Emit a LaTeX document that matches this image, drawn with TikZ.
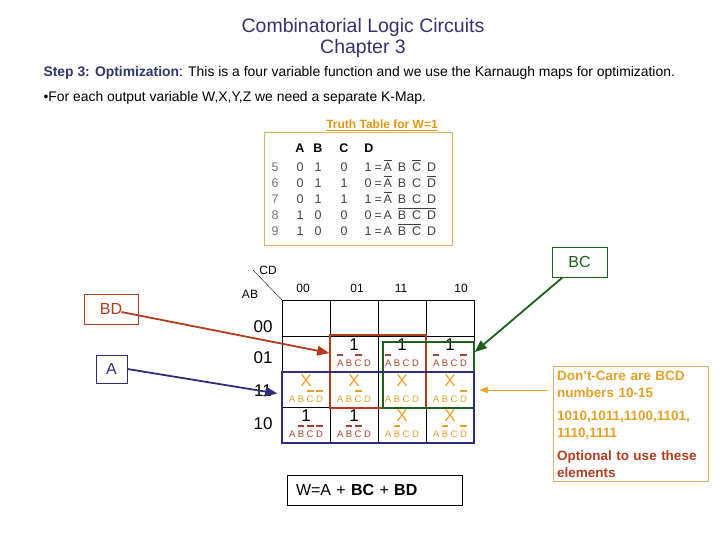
\documentclass[tikz,border=0pt]{standalone}
\usepackage{fontspec}
\setmainfont{Liberation Sans}
\usetikzlibrary{arrows,calc}

\definecolor{navy}{RGB}{51,51,110}
\definecolor{ttgold}{RGB}{222,150,20}
\definecolor{ttframe}{RGB}{215,180,110}
\definecolor{bdred}{RGB}{178,60,30}
\definecolor{bcgreen}{RGB}{30,95,30}
\definecolor{anavy}{RGB}{45,45,120}
\definecolor{dcorange}{RGB}{228,160,40}
\definecolor{mtred}{RGB}{165,65,50}

% letter with a bar over it, raised by the optional argument
\newcommand{\ovl}[2][11pt]{\setbox0\hbox{#2}\rlap{\rule[#1]{\wd0}{1.8pt}}\box0}
\newcommand{\tovl}[1]{\setbox0\hbox{#1}\rlap{\rule[10.5pt]{\wd0}{1.3pt}}\box0}
\newcommand{\lit}[2]{\ifnum#1=0 \ovl{#2}\else#2\fi}
\newcommand{\mterm}[4]{\lit{#1}{A}\kern2.5pt\lit{#2}{B}\kern2.5pt\lit{#3}{C}\kern2.5pt\lit{#4}{D}}

\begin{document}
\begin{tikzpicture}[x=1pt,y=-1pt,
    title/.style={text=navy, font=\fontsize{19.5}{22}\selectfont},
    textline/.style={anchor=west, font=\fontsize{13.9}{16}\selectfont},
    ttxt/.style={anchor=base, inner sep=0pt, text=black!75, font=\fontsize{12.5}{15}\selectfont},
    tthead/.style={ttxt, text=black, font=\fontsize{12.5}{15}\selectfont\bfseries},
    collab/.style={inner sep=0pt, font=\fontsize{12}{14}\selectfont},
    rowlab/.style={inner sep=0pt, font=\fontsize{17}{20}\selectfont},
    cellsym/.style={anchor=base, inner sep=0pt, font=\fontsize{17}{20}\selectfont},
    cellterm/.style={anchor=base, inner sep=0pt, font=\fontsize{9.5}{11}\selectfont},
    tagbox/.style={draw, line width=0.8pt, inner sep=0pt, font=\fontsize{16}{18}\selectfont},
    group/.style={draw, line width=1.6pt, inner sep=0pt},
    tagline/.style={line width=1.8pt, -triangle 45}]
\useasboundingbox (0,0) rectangle (720,540);

% heading
\node[title] (head) at (363,27) {Combinatorial Logic Circuits};
\node[title] (chap) at (363,48) {Chapter 3};
\node[textline] (step) at (40,73) {\textcolor{navy}{\bfseries Step 3: Optimization}: This is a four variable function and we use the Karnaugh maps for optimization.};
\node[textline] (bullet) at (40,98) {\textbullet{}For each output variable W,X,Y,Z we need a separate K-Map.};

% truth table
\node[text=ttgold, font=\fontsize{12}{14}\selectfont\bfseries] (tttitle) at (382,125) {\underline{Truth Table for W=1}};
\node[draw=ttframe, line width=0.8pt, minimum width=188pt, minimum height=113pt, inner sep=0pt] (ttbox) at (358,188.5) {};
\node[tthead] (hA) at (300,152.5) {A};
\node[tthead] (hB) at (318,152.5) {B};
\node[tthead] (hC) at (344,152.5) {C};
\node[tthead] (hD) at (369,152.5) {D};
\foreach \n/\a/\b/\c/\d/\eq [count=\i] in {
    5/0/1/0/1/{\tovl{A}\kern6pt B\kern6pt\tovl{C}\kern6pt D},
    6/0/1/1/0/{\tovl{A}\kern6pt B\kern6pt C\kern6pt\tovl{D}},
    7/0/1/1/1/{\tovl{A}\kern6pt B\kern6pt C\kern6pt D},
    8/1/0/0/0/{A\kern6pt\tovl{B}\kern0pt\tovl{\kern6pt C}\kern0pt\tovl{\kern6pt D}},
    9/1/0/0/1/{A\kern6pt\tovl{B}\kern0pt\tovl{\kern6pt C}\kern6pt D}}
{
  \node[ttxt, text=black!55] (tn\i) at (275,155.5+16*\i) {\n};
  \node[ttxt] (ta\i) at (300,155.5+16*\i) {\a};
  \node[ttxt] (tb\i) at (318,155.5+16*\i) {\b};
  \node[ttxt] (tc\i) at (344,155.5+16*\i) {\c};
  \node[ttxt] (td\i) at (368,155.5+16*\i) {\d};
  \node[ttxt, anchor=base west] (te\i) at (374.5,155.5+16*\i) {=\kern1.5pt\eq};
}

% k-map grid
\foreach \x in {282,330,378,426,474}
  \draw (\x,300) -- (\x,443);
\foreach \y in {300,336,372,407,443}
  \draw (282,\y) -- (474,\y);
\draw (253,270) -- (282,300);
\node[collab] (cd) at (268,270) {CD};
\node[collab] (ab) at (250,294) {AB};
\foreach \lab/\x in {00/303,01/357,11/401,10/461}
  \node[collab] (c\lab) at (\x,288) {\lab};
\foreach \lab/\y in {00/327,01/358,11/391,10/424}
  \node[rowlab] (r\lab) at (263,\y) {\lab};

% cells
\foreach \cx/\ty/\bits [count=\k] in {354/336/0101,402/336/0111,450/336/0110,306/407/1000,354/407/1001}
{
  \node[cellsym] (one\k) at (\cx,\ty+14) {1};
  \node[cellterm, text=mtred] (oneterm\k) at (\cx,\ty+30.5) {\color{mtred}\expandafter\mterm\bits};
}
\foreach \cx/\ty/\bits [count=\k] in {306/372/1100,354/372/1101,402/372/1111,450/372/1110,402/407/1011,450/407/1010}
{
  \node[cellsym, text=dcorange] (dc\k) at (\cx,\ty+14) {X};
  \node[cellterm, text=dcorange] (dcterm\k) at (\cx,\ty+30.5) {\color{dcorange}\expandafter\mterm\bits};
}

% groups
\node[group, draw=bdred, minimum width=96pt, minimum height=73pt] (bdgroup) at (378,371.5) {};
\node[group, draw=bcgreen, minimum width=91pt, minimum height=66pt] (bcgroup) at (428.5,375) {};
\node[group, draw=anavy, minimum width=192pt, minimum height=71pt] (agroup) at (378,407.5) {};

% group tags
\node[tagbox, draw=bdred, text=bdred, minimum width=54pt, minimum height=30pt] (bdbox) at (111,309) {BD};
\node[tagbox, draw=anavy, text=anavy, minimum width=31pt, minimum height=28pt] (abox) at (111.5,369) {A};
\node[tagbox, draw=bcgreen, text=bcgreen, minimum width=55pt, minimum height=30pt] (bcbox) at (579.5,262) {BC};
\draw[tagline, bdred] ($(bdbox.east)+(-17,3)$) -- ($(bdgroup.west)+(0,-18.5)$);
\draw[tagline, anavy] (abox.east) -- ($(agroup.west)+(-4,-14)$);
\draw[tagline, bcgreen] ($(bcbox.south west)+(11,0)$) -- ($(bcgroup.east)+(0,-23)$);

% don't care note
\node[draw=ttframe, line width=0.8pt, text=dcorange, text width=147pt, align=left, inner sep=4pt,
      font=\fontsize{13.5}{17}\selectfont\bfseries] (dcare) at (630.5,424)
  {Don't-Care are BCD\\numbers 10-15\\[6pt]1010,1011,1100,1101,\\1110,1111\\[6pt]
   \textcolor{bdred}{Optional to use these}\\\textcolor{bdred}{elements}};
\draw[dcorange, line width=0.8pt, -triangle 45] ($(dcare.west)+(-5,-34)$) -- ($(agroup.east)+(5,-17.5)$);

% result
\node[draw, line width=0.8pt, text width=157pt, inner xsep=9pt, minimum height=30pt, align=left,
      font=\fontsize{16}{18}\selectfont] (result) at (374.5,490) {W=A + \textbf{BC} + \textbf{BD}};
\end{tikzpicture}
\end{document}
